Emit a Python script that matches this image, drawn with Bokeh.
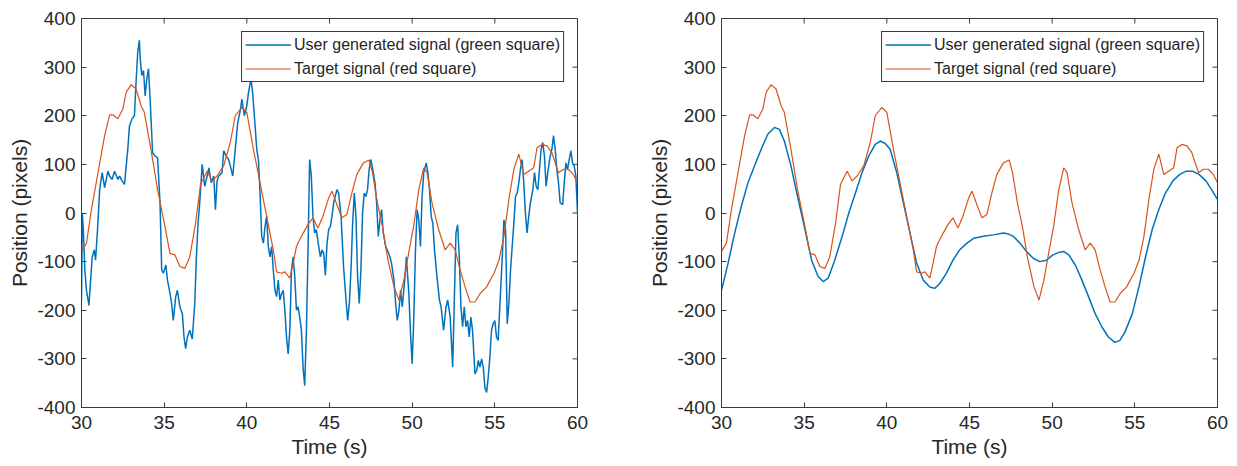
import math
from bokeh.plotting import figure
from bokeh.layouts import row
from bokeh.models import Range1d, FixedTicker
from bokeh.embed import file_html
from bokeh.resources import INLINE

# ---------------- data ----------------
x_ticks = [30, 35, 40, 45, 50, 55, 60]
y_ticks = [-400, -300, -200, -100, 0, 100, 200, 300, 400]
y_tick_labels = ["-400", "-300", "-200", "-100", "0", "100", "200", "300", "400"]

legend_user = "User generated signal (green square)"
legend_target = "Target signal (red square)"
x_label = "Time (s)"
y_label = "Position (pixels)"

# target signal (same in both panels)
target_time = [30.0, 30.3, 30.6, 31.0, 31.4, 31.7, 31.9, 32.2, 32.5, 32.7, 33.0, 33.3, 33.6, 33.8,
               34.2, 34.6, 35.05, 35.35, 35.65, 35.95, 36.25, 36.55, 36.9, 37.2, 37.6, 37.9, 38.2,
               38.6, 39.0, 39.3, 39.7, 40.0, 40.4, 40.8, 41.2, 41.6, 41.8, 42.1, 42.3, 42.6, 42.8,
               43.0, 43.3, 43.7, 44.0, 44.3, 44.6, 44.95, 45.15, 45.45, 45.75, 46.05, 46.35, 46.65,
               47.05, 47.4, 47.6, 47.9, 48.2, 48.5, 48.9, 49.2, 49.5, 49.8, 50.1, 50.4, 50.7, 50.9,
               51.2, 51.6, 52.0, 52.3, 52.6, 52.9, 53.2, 53.5, 53.8, 54.1, 54.5, 54.95, 55.25, 55.55,
               55.85, 56.15, 56.45, 56.75, 57.05, 57.35, 57.55, 57.85, 58.15, 58.45, 58.85, 59.15,
               59.45, 59.75, 60.0]
target_pos = [-79, -62, 7, 83, 159, 202, 202, 194, 214, 248, 264, 255, 221, 207,
              131, 48, -28, -83, -86, -110, -114, -90, -21, 59, 86, 66, 76,
              97, 145, 200, 217, 207, 131, 62, -7, -76, -121, -124, -121, -134, -103,
              -69, -48, -24, -10, -31, -7, 31, 45, 17, -10, -3, 41, 79,
              103, 109, 83, 21, -28, -90, -152, -179, -138, -80, -25, 48, 93, 83,
              21, -34, -76, -62, -76, -117, -152, -183, -183, -166, -152, -124, -97, -48,
              28, 90, 121, 79, 86, 93, 134, 141, 138, 124, 83, 90,
              90, 79, 62]

# user signal, left panel (raw)
user_raw_time = [30.0, 30.05, 30.12, 30.2, 30.3, 30.45, 30.55, 30.65, 30.77, 30.85, 30.97, 31.1, 31.25,
                 31.4, 31.6, 31.7, 31.85, 32.0, 32.2, 32.3, 32.45, 32.6, 32.8, 32.9, 33.05, 33.2, 33.3,
                 33.4, 33.5, 33.55, 33.65, 33.75, 33.85, 33.95, 34.05, 34.15, 34.3, 34.45, 34.6, 34.75,
                 34.85, 34.95, 35.1, 35.2, 35.35, 35.45, 35.55, 35.7, 35.8, 35.95, 36.1, 36.2, 36.3,
                 36.4, 36.55, 36.7, 36.85, 36.95, 37.05, 37.15, 37.3, 37.45, 37.6, 37.7, 37.85, 38.0,
                 38.1, 38.2, 38.3, 38.5, 38.6, 38.75, 38.9, 39.0, 39.15, 39.3, 39.45, 39.6, 39.7, 39.85,
                 40.0, 40.1, 40.25, 40.35, 40.5, 40.6, 40.7, 40.8, 40.9, 41.0, 41.1, 41.2, 41.3, 41.4,
                 41.5, 41.6, 41.7, 41.8, 41.9, 42.0, 42.1, 42.2, 42.3, 42.4, 42.5, 42.6, 42.7, 42.8,
                 42.9, 43.0, 43.1, 43.2, 43.3, 43.4, 43.5, 43.6, 43.7, 43.8, 43.9, 44.0, 44.1, 44.2,
                 44.35, 44.45, 44.55, 44.65, 44.75, 44.85, 44.95, 45.05, 45.15, 45.25, 45.45, 45.55,
                 45.7, 45.85, 46.0, 46.1, 46.2, 46.3, 46.4, 46.5, 46.6, 46.7, 46.8, 46.9, 47.0, 47.1,
                 47.2, 47.3, 47.4, 47.5, 47.6, 47.75, 47.85, 47.95, 48.05, 48.15, 48.25, 48.4, 48.5,
                 48.65, 48.75, 48.9, 49.0, 49.1, 49.2, 49.3, 49.4, 49.55, 49.65, 49.8, 49.9, 50.0,
                 50.1, 50.2, 50.3, 50.4, 50.5, 50.6, 50.7, 50.85, 50.95, 51.05, 51.15, 51.25, 51.35,
                 51.5, 51.65, 51.75, 51.9, 52.05, 52.15, 52.3, 52.45, 52.55, 52.65, 52.75, 52.85,
                 52.95, 53.05, 53.15, 53.25, 53.35, 53.45, 53.55, 53.65, 53.8, 53.9, 54.0, 54.1, 54.2,
                 54.3, 54.4, 54.5, 54.6, 54.7, 54.8, 54.9, 55.0, 55.1, 55.2, 55.3, 55.45, 55.55, 55.65,
                 55.75, 55.85, 55.95, 56.05, 56.15, 56.25, 56.35, 56.45, 56.55, 56.65, 56.75, 56.85,
                 56.95, 57.05, 57.15, 57.3, 57.4, 57.5, 57.6, 57.7, 57.8, 57.9, 58.0, 58.1, 58.2,
                 58.35, 58.45, 58.55, 58.65, 58.75, 58.85, 58.95, 59.1, 59.2, 59.3, 59.4, 59.5, 59.6,
                 59.7, 59.8, 59.9, 60.0]
user_raw_pos = [-180, 0, -40, -117, -159, -190, -138, -90, -76, -97, -34, 48, 83,
                52, 86, 76, 69, 86, 69, 76, 66, 59, 131, 179, 193, 200, 269,
                331, 355, 317, 283, 293, 241, 276, 297, 234, 124, 117, 114, 21,
                -117, -124, -107, -138, -165, -186, -221, -172, -159, -193, -207, -255, -279,
                -255, -241, -259, -186, -90, -21, 21, 100, 55, 76, 93, 62, 76,
                7, 66, 76, 83, 128, 117, 110, 97, 76, 131, 186, 210, 234, 200,
                221, 248, 276, 248, 179, 131, 110, 41, -48, -62, -28, -7, -69, -90,
                -69, -117, -159, -172, -138, -179, -166, -159, -200, -255, -290, -241, -117, -90,
                -131, -200, -193, -214, -241, -317, -355, -248, -76, 110, 76, -7, -41, -34,
                -69, -90, -76, -83, -128, -62, -34, -28, -7, 21, 48, 41,
                -7, -110, -179, -221, -186, -117, -21, 41, -7, -131, -186, -117, 0, 41,
                34, 48, 90, 110, 93, 62, 21, -48, -14, 7, -41, -69, -76,
                -90, -103, -138, -186, -221, -200, -159, -193, -138, -90, -166, -248, -310,
                -214, -76, 7, -14, -69, 34, 83, 103, 83, 48, -7, -21, -76,
                -131, -179, -193, -241, -193, -179, -214, -317, -179, -41, -24, -90,
                -193, -234, -193, -234, -221, -255, -214, -241, -331, -324, -303, -317, -300,
                -317, -359, -369, -338, -297, -241, -228, -221, -255, -262, -193, -90, -14, -34,
                -228, -186, -117, -69, -21, 34, 41, 62, 90, 110, 62, 0,
                -41, -7, 21, 48, 83, 55, 48, 90, 131, 145, 117, 55, 83,
                117, 131, 159, 131, 90, 62, 21, 17, 62, 103, 90, 110, 128,
                103, 97, 76, 0]

# user signal, right panel (smoothed)
user_smooth_time = [30.0, 30.4, 30.8, 31.2, 31.6, 32.0, 32.4, 32.8, 33.2, 33.5, 33.8, 34.2, 34.6,
                    35.05, 35.45, 35.85, 36.15, 36.45, 36.85, 37.3, 37.7, 38.1, 38.5, 38.9, 39.3,
                    39.6, 39.9, 40.2, 40.6, 41.0, 41.4, 41.8, 42.2, 42.6, 42.9, 43.2, 43.6, 44.0,
                    44.4, 44.85, 45.25, 45.85, 46.45, 47.05, 47.35, 47.65, 48.05, 48.45, 48.85,
                    49.25, 49.65, 50.05, 50.4, 50.7, 51.0, 51.4, 51.8, 52.2, 52.6, 53.0, 53.4,
                    53.8, 54.1, 54.4, 54.85, 55.25, 55.65, 56.05, 56.45, 56.85, 57.3, 57.7, 58.1,
                    58.5, 58.9, 59.3, 59.7, 60.0]
user_smooth_pos = [-159, -103, -41, 14, 62, 97, 131, 162, 176, 172, 148, 97, 34,
                   -34, -97, -131, -141, -134, -97, -48, 0, 41, 83, 117, 141,
                   148, 143, 131, 83, 21, -41, -103, -138, -152, -155, -145, -124, -97,
                   -76, -62, -52, -48, -45, -41, -43, -48, -62, -79, -93,
                   -100, -97, -86, -81, -79, -86, -107, -138, -172, -207, -234, -255,
                   -266, -262, -245, -207, -152, -90, -34, 7, 41, 66, 79, 86,
                   86, 79, 66, 45, 28]

# ---------------- style ----------------
FONT = "Liberation Sans"
TEXT_COLOR = "#262626"
AXIS_COLOR = "#3a3a3a"
BLUE = "#0072BD"
ORANGE = "#D95319"


def label_axis(ax, tick_standoff, label_standoff):
    ax.axis_line_color = AXIS_COLOR
    ax.axis_line_width = 1
    ax.major_tick_line_color = AXIS_COLOR
    ax.major_tick_in = 5
    ax.major_tick_out = 0
    ax.minor_tick_line_color = None
    ax.major_label_text_font = FONT
    ax.major_label_text_color = TEXT_COLOR
    ax.major_label_text_font_size = "19px"
    ax.major_label_standoff = tick_standoff
    ax.axis_label_text_font = FONT
    ax.axis_label_text_font_size = "21px"
    ax.axis_label_text_font_style = "normal"
    ax.axis_label_text_color = TEXT_COLOR
    ax.axis_label_standoff = label_standoff


def make_panel(width, border_left, border_right, user_t, user_y, user_width):
    p = figure(width=width, height=466,
               x_range=Range1d(x_ticks[0], x_ticks[-1]), y_range=Range1d(y_ticks[0], y_ticks[-1]),
               output_backend="svg", toolbar_location=None,
               min_border_left=border_left, min_border_right=border_right,
               min_border_top=18, min_border_bottom=59,
               x_axis_label=x_label, y_axis_label=y_label)
    p.xgrid.visible = False
    p.ygrid.visible = False
    p.outline_line_color = AXIS_COLOR
    p.outline_line_width = 1
    p.outline_line_alpha = 1
    p.background_fill_color = "white"
    p.border_fill_color = "white"

    p.xaxis.ticker = FixedTicker(ticks=x_ticks)
    p.yaxis.ticker = FixedTicker(ticks=y_ticks)
    p.yaxis.major_label_overrides = dict(zip(y_ticks, y_tick_labels))
    for ax in p.xaxis:
        label_axis(ax, 8, 3)
    for ax in p.yaxis:
        label_axis(ax, 6, 3)

    # inward tick marks on the top and right edges of the box (clipped to the frame)
    p.scatter(x=x_ticks, y=[y_ticks[-1]] * len(x_ticks), marker="dash", size=10,
              angle=math.pi / 2, line_color=AXIS_COLOR, line_width=1)
    p.scatter(x=[x_ticks[-1]] * len(y_ticks), y=y_ticks, marker="dash", size=10,
              angle=0, line_color=AXIS_COLOR, line_width=1)

    p.line(user_t, user_y, line_color=BLUE, line_width=user_width, legend_label=legend_user)
    p.line(target_time, target_pos, line_color=ORANGE, line_width=1.2, legend_label=legend_target)

    lg = p.legend[0]
    lg.location = "top_right"
    lg.margin = 13
    lg.padding = 3
    lg.spacing = 5
    lg.glyph_width = 46
    lg.glyph_height = 19
    lg.label_height = 19
    lg.label_standoff = 3
    lg.label_text_font = FONT
    lg.label_text_font_size = "16px"
    lg.label_text_color = TEXT_COLOR
    lg.border_line_color = AXIS_COLOR
    lg.border_line_width = 1
    lg.border_line_alpha = 1
    lg.background_fill_alpha = 1
    return p


p1 = make_panel(620, 81, 43, user_raw_time, user_raw_pos, 1.5)
p2 = make_panel(617, 101, 20, user_smooth_time, user_smooth_pos, 1.5)

layout = row(p1, p2)
open("out.html", "w").write(file_html(layout, INLINE))
